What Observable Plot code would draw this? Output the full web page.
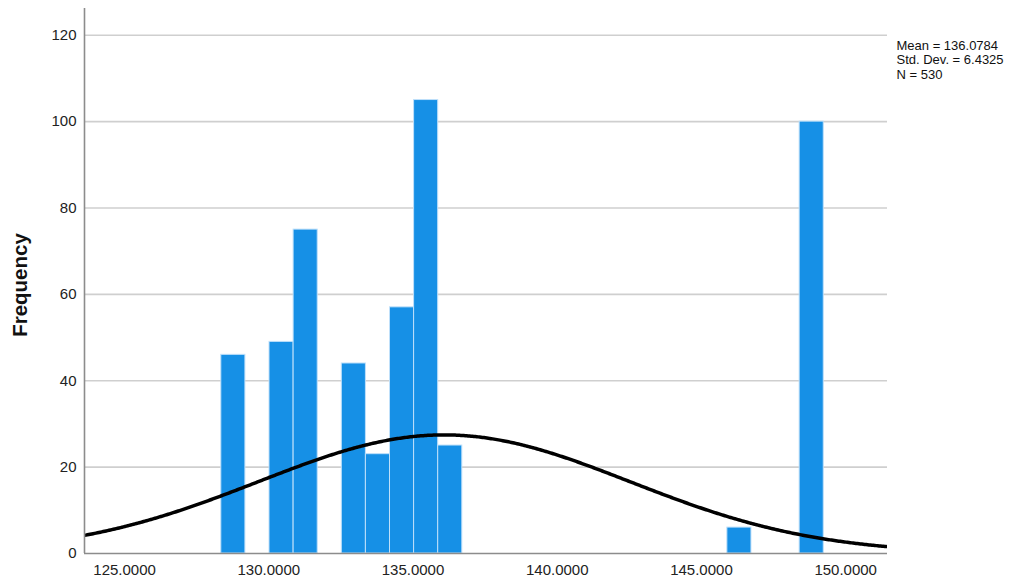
<!DOCTYPE html>
<html>
<head>
<meta charset="utf-8">
<script src="https://cdn.jsdelivr.net/npm/d3@7"></script>
<script src="https://cdn.jsdelivr.net/npm/@observablehq/plot@0.6"></script>
<style>
  body { margin: 0; background: #fff; }
  #chart { width: 1026px; height: 581px; }
  #chart svg { font-family: "Liberation Sans", Arial, sans-serif; }
</style>
</head>
<body>
<div id="chart"></div>
<script>
// Histogram bins: lower edge of each non-empty bin and its count
const binStart = [128.353, 130.024, 130.860, 132.531, 133.366, 134.202, 135.037, 135.873, 145.898, 148.404];
const binWidth = 0.8355;
const frequency = [46, 49, 75, 44, 23, 57, 105, 25, 6, 100];

// Summary statistics shown beside the plot
const mean = 136.0784;
const stdDev = 6.4325;
const count = 530;
const statLines = ["Mean = 136.0784", "Std. Dev. = 6.4325", "N = 530"];

// Axis ticks
const xTicks = [125, 130, 135, 140, 145, 150];
const yTicks = [0, 20, 40, 60, 80, 100, 120];
const xDomain = [123.61, 151.45];
const yDomain = [0, 126.2];

const bins = binStart.map((x0, i) => ({x1: x0, x2: x0 + binWidth, y: frequency[i]}));

// Normal curve scaled to the histogram: N * binWidth * pdf(x)
const curve = d3.range(xDomain[0], xDomain[1] + 0.001, 0.05).map(x => ({
  x,
  y: count * binWidth * Math.exp(-0.5 * ((x - mean) / stdDev) ** 2) / (stdDev * Math.sqrt(2 * Math.PI))
}));

const chart = Plot.plot({
  width: 1026,
  height: 581,
  marginTop: 8,
  marginBottom: 28,
  marginLeft: 84,
  marginRight: 139,
  style: {fontFamily: "'Liberation Sans', Arial, sans-serif", background: "#fff"},
  x: {domain: xDomain},
  y: {domain: yDomain},
  marks: [
    Plot.gridY(yTicks.filter(v => v > 0), {stroke: "#cfcfcf", strokeOpacity: 1, strokeWidth: 1.6}),
    Plot.rectY(bins, {x1: "x1", x2: "x2", y: "y", fill: "#1690e6", stroke: "#bfe0fa", strokeWidth: 1}),
    Plot.line(curve, {x: "x", y: "y", stroke: "#000", strokeWidth: 3.5, clip: true}),
    Plot.ruleX([xDomain[0]], {stroke: "#8c8c8c", strokeWidth: 1.6}),
    Plot.ruleY([0], {stroke: "#8c8c8c", strokeWidth: 1.6}),
    Plot.axisY(yTicks, {tickSize: 0, tickPadding: 8, fontSize: 15, fill: "#222", label: null}),
    Plot.axisX(xTicks, {tickSize: 0, tickPadding: 11, fontSize: 15, fill: "#222", label: null,
      tickFormat: d => d.toFixed(4)}),
    Plot.text(["Frequency"], {frameAnchor: "left", textAnchor: "middle", rotate: -90, dx: -64, dy: 4,
      fontSize: 20.5, fontWeight: "bold", fill: "#111"}),
    Plot.text([statLines.join("\n")], {frameAnchor: "top-right", textAnchor: "start", lineAnchor: "top",
      dx: 9, dy: 31, fontSize: 13, lineHeight: 1.12, fill: "#111"})
  ]
});

document.getElementById("chart").append(chart);
</script>
</body>
</html>
